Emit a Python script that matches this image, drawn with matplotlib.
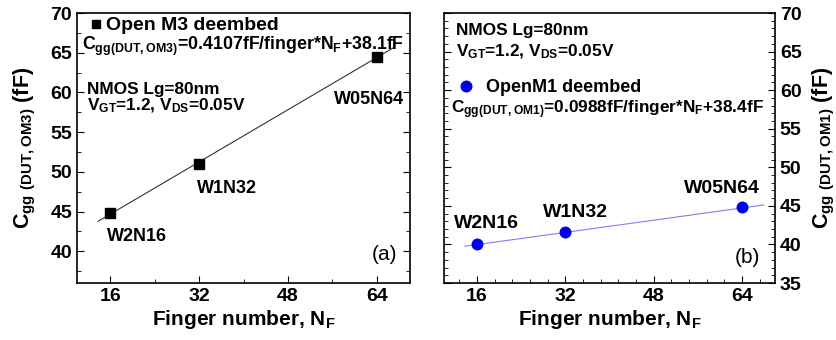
import numpy as np
import matplotlib
matplotlib.use("Agg")
from matplotlib import pyplot as plt
from matplotlib.ticker import MultipleLocator, AutoMinorLocator

plt.rcParams['font.family'] = ['Liberation Sans', 'DejaVu Sans']
plt.rcParams['font.weight'] = 'bold'
plt.rcParams['axes.labelweight'] = 'bold'
plt.rcParams['mathtext.default'] = 'regular'

# データ
nf = [16, 32, 64]
labels = ['W2N16', 'W1N32', 'W05N64']
cgg_om3 = [44.8, 51.0, 64.5]
cgg_om1 = [40.0, 41.6, 44.8]
# フィット式
fit_om3 = (0.4107, 38.1)
fit_om1 = (0.0988, 38.4)
fit_x_om3 = [13.8, 67.2]
fit_x_om1 = [13.8, 68.0]

fig = plt.figure(figsize=(8.36, 3.4), dpi=100)
ax1 = fig.add_axes([77/836, 57/340, 333/836, 270/340])
ax2 = fig.add_axes([444/836, 57/340, 331/836, 270/340])

# (a) Open M3
xf = np.array(fit_x_om3)
ax1.plot(xf, fit_om3[0]*xf + fit_om3[1], color='#333333', lw=0.8)
ax1.plot(nf, cgg_om3, 's', color='black', ms=6.8, label='Open M3 deembed')
ax1.set_xlim(10, 70)
ax1.set_ylim(36, 70)
ax1.set_xticks(nf[:2] + [48] + nf[2:])
ax1.xaxis.set_minor_locator(AutoMinorLocator(2))
ax1.yaxis.set_major_locator(MultipleLocator(5))
ax1.yaxis.set_minor_locator(AutoMinorLocator(2))
ax1.tick_params(which='both', direction='in', right=True, top=False, labelsize=14)
ax1.tick_params(which='major', length=5)
ax1.tick_params(which='minor', length=3)
ax1.set_xlabel('Finger number, N$_F$', fontsize=15, labelpad=2)
ax1.set_ylabel(r'C$_{gg\ (DUT,OM3)}$ (fF)', fontsize=15.5, labelpad=9)
ax1.legend(loc='upper left', bbox_to_anchor=(0.039, 0.986), frameon=False,
           handlelength=0.6, handletextpad=0.22, borderpad=0, borderaxespad=0,
           prop={'size': 14, 'weight': 'bold'}, markerscale=0.8)
ax1.text(0.015, 0.863, 'C$_{gg(DUT,OM3)}$=0.4107fF/finger*N$_F$+38.1fF',
         transform=ax1.transAxes, fontsize=12.8, va='baseline')
ax1.text(0.03, 0.70, 'NMOS Lg=80nm', transform=ax1.transAxes, fontsize=12.4, va='baseline')
ax1.text(0.03, 0.641, 'V$_{GT}$=1.2, V$_{DS}$=0.05V', transform=ax1.transAxes,
         fontsize=12.4, va='baseline')
ax1.text(0.982, 0.663, labels[2], transform=ax1.transAxes, fontsize=13,
         ha='right', va='baseline')
ax1.text(0.36, 0.333, labels[1], transform=ax1.transAxes, fontsize=13, va='baseline')
ax1.text(0.09, 0.156, labels[0], transform=ax1.transAxes, fontsize=13, va='baseline')
ax1.text(0.961, 0.104, '(a)', transform=ax1.transAxes, fontsize=15,
         fontweight='normal', ha='right', va='center')

# (b) Open M1
xf = np.array(fit_x_om1)
ax2.plot(xf, fit_om1[0]*xf + fit_om1[1], color='#8080f0', lw=0.8)
ax2.plot(nf, cgg_om1, 'o', color='#0000ee', ms=7.6, label='OpenM1 deembed')
ax2.set_xlim(10, 70)
ax2.set_ylim(35, 70)
ax2.set_xticks(nf[:2] + [48] + nf[2:])
ax2.xaxis.set_minor_locator(AutoMinorLocator(5))
ax2.yaxis.set_major_locator(MultipleLocator(5))
ax2.yaxis.set_minor_locator(AutoMinorLocator(5))
ax2.yaxis.tick_right()
ax2.yaxis.set_label_position('right')
ax2.tick_params(which='both', direction='in', left=True, right=True, top=False,
                labelsize=14)
ax2.tick_params(which='major', length=5)
ax2.tick_params(which='minor', length=3)
ax2.set_xlabel('Finger number, N$_F$', fontsize=15, labelpad=2)
ax2.set_ylabel(r'C$_{gg\ (DUT,OM1)}$ (fF)', fontsize=15.5, labelpad=7)
ax2.legend(loc='upper left', bbox_to_anchor=(0.039, 0.756), frameon=False,
           handlelength=1.0, handletextpad=0.6, borderpad=0, borderaxespad=0,
           prop={'size': 13, 'weight': 'bold'}, markerscale=1.0)
ax2.text(0.036, 0.919, 'NMOS Lg=80nm', transform=ax2.transAxes, fontsize=12.4, va='baseline')
ax2.text(0.036, 0.841, 'V$_{GT}$=1.2, V$_{DS}$=0.05V', transform=ax2.transAxes,
         fontsize=12.4, va='baseline')
ax2.text(0.021, 0.63, 'C$_{gg(DUT,OM1)}$=0.0988fF/finger*N$_F$+38.4fF',
         transform=ax2.transAxes, fontsize=12.4, va='baseline')
ax2.text(0.03, 0.204, labels[0], transform=ax2.transAxes, fontsize=14, va='baseline')
ax2.text(0.299, 0.244, labels[1], transform=ax2.transAxes, fontsize=14, va='baseline')
ax2.text(0.725, 0.333, labels[2], transform=ax2.transAxes, fontsize=14, va='baseline')
ax2.text(0.955, 0.096, '(b)', transform=ax2.transAxes, fontsize=15,
         fontweight='normal', ha='right', va='center')

for ax in (ax1, ax2):
    for s in ax.spines.values():
        s.set_linewidth(1.2)
    for t in ax.get_xticklabels() + ax.get_yticklabels():
        t.set_fontweight('bold')

fig.savefig('out.png', dpi=100)
plt.close()
